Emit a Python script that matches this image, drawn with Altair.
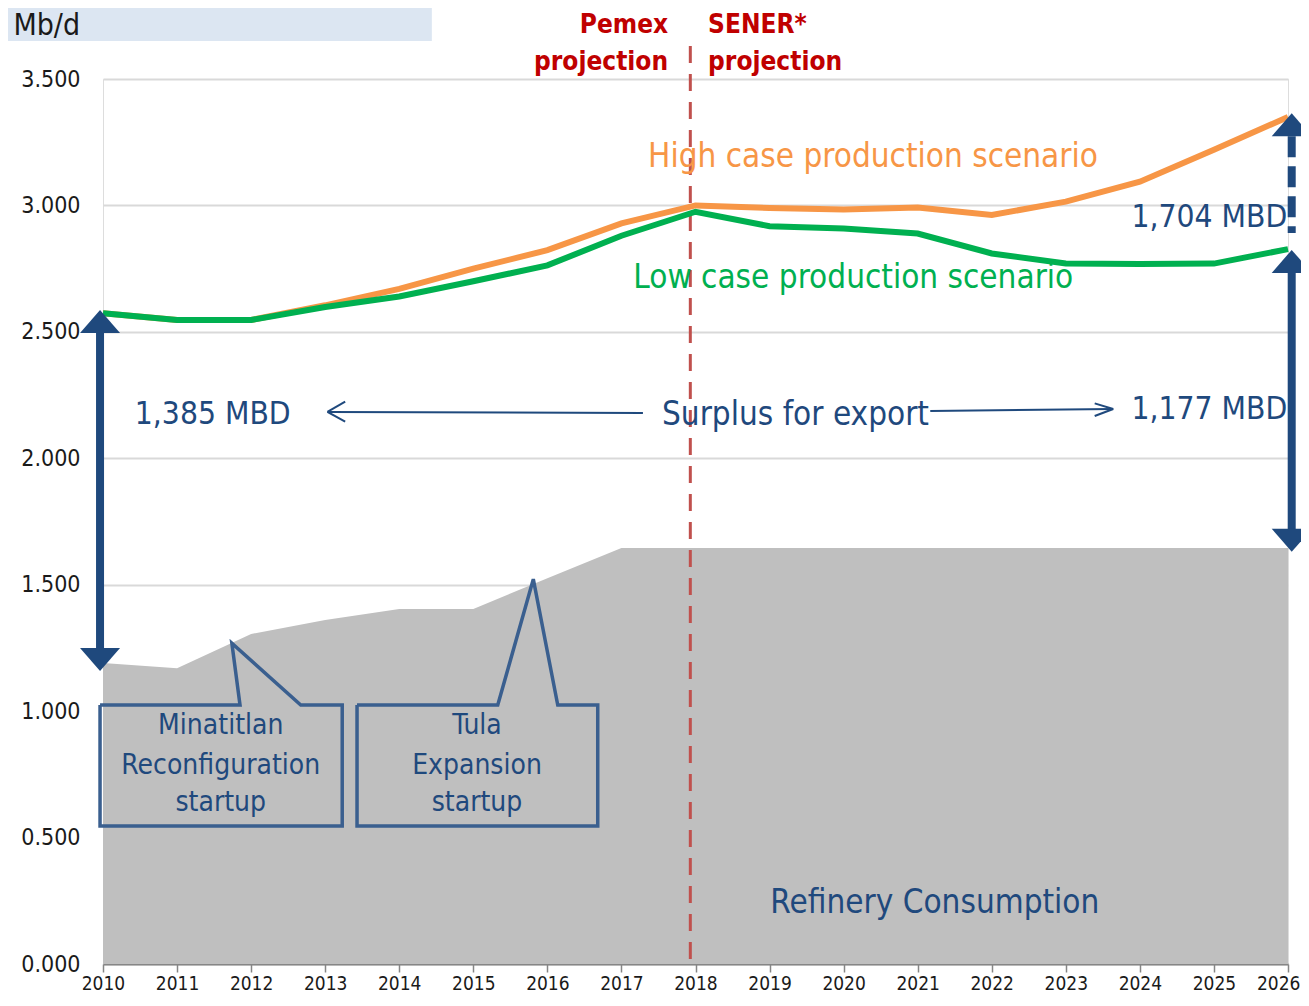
import altair as alt
import pandas as pd

FONT = "'Liberation Sans Narrow', 'Arial Narrow', 'DejaVu Sans Condensed', sans-serif"
BLUE = "#1F497D"
BOX_BLUE = "#3A5F8F"

# ---------------- data ----------------
years = list(range(2010, 2027))
refinery = [1.190, 1.170, 1.305, 1.360, 1.404, 1.404, 1.526, 1.645, 1.645, 1.645,
            1.645, 1.645, 1.645, 1.645, 1.645, 1.645, 1.645]
high_case = [2.574, 2.547, 2.547, 2.605, 2.670, 2.750, 2.823, 2.929, 3.000, 2.990,
             2.984, 2.992, 2.962, 3.015, 3.094, 3.220, 3.350]
low_case = [2.574, 2.547, 2.547, 2.598, 2.640, 2.700, 2.763, 2.880, 2.975, 2.918,
            2.909, 2.889, 2.810, 2.770, 2.768, 2.770, 2.827]

y_ticks = [0, 0.5, 1.0, 1.5, 2.0, 2.5, 3.0, 3.5]

# annotation positions (in data units: year, Mb/d)
divider_year = 2017.93
divider_range = [0.02, 3.67]

header_box = dict(x=2008.61, x2=2014.44, y=3.812, y2=3.650)
header_text = dict(x=2008.79, y=3.674, text="Mb/d")

# thick double arrows
left_arrow_x = 2009.96
left_shaft = [2.507, 1.238]
left_heads = [2.507, 1.238]
right_arrow_x = 2026.05
right_shaft = [2.745, 1.709]
right_heads = [2.745, 1.709]
dashed_shaft = [3.274, 2.891]
dashed_head = 3.285

# thin arrows (segments x, y, x2, y2)
thin_segments = [
    (2013.04, 2.183, 2017.29, 2.179),
    (2013.03, 2.184, 2013.27, 2.224),
    (2013.03, 2.184, 2013.27, 2.145),
    (2021.17, 2.187, 2023.64, 2.195),
    (2023.64, 2.195, 2023.39, 2.217),
    (2023.64, 2.195, 2023.39, 2.167),
]

# callout outlines
minatitlan_x = [2009.96, 2011.85, 2011.74, 2012.67, 2013.23, 2013.23, 2009.96, 2009.96]
minatitlan_y = [1.024, 1.024, 1.269, 1.024, 1.024, 0.546, 0.546, 1.024]
tula_x = [2013.43, 2015.33, 2015.81, 2016.14, 2016.68, 2016.68, 2013.43, 2013.43]
tula_y = [1.024, 1.024, 1.522, 1.024, 1.024, 0.546, 0.546, 1.024]

callout_lines_y = [0.941, 0.783, 0.637]
minatitlan_text = ["Minatitlan", "Reconfiguration", "startup"]
minatitlan_cx = 2011.59
tula_text = ["Tula", "Expansion", "startup"]
tula_cx = 2015.05

# ---------------- scales ----------------
xs = alt.Scale(domain=[2010, 2026], nice=False, zero=False)
ys = alt.Scale(domain=[0, 3.5], nice=False)

series = pd.DataFrame({"year": years, "refinery": refinery,
                       "high": high_case, "low": low_case})

area = alt.Chart(series).mark_area(color="#BFBFBF", opacity=1).encode(
    x=alt.X("year:Q", scale=xs, title=None,
            axis=alt.Axis(values=years, format="d", grid=False,
                          domainColor="#868686", domainWidth=2,
                          tickColor="#868686", tickWidth=1.5, tickSize=8,
                          labelFontSize=19, labelFont=FONT, labelColor="#1a1a1a",
                          labelPadding=2, labelFlush=False, labelOverlap=False,
                          labelAlign={"condition": {"test": "datum.value == 2026",
                                                    "value": "right"},
                                      "value": "center"},
                          labelOffset={"condition": {"test": "datum.value == 2026",
                                                     "value": 12},
                                       "value": 0})),
    y=alt.Y("refinery:Q", scale=ys, title=None,
            axis=alt.Axis(values=y_ticks, labelExpr="format(datum.value, '.3f')",
                          grid=True, gridColor="#D9D9D9", gridWidth=2,
                          domain=False, ticks=False, labelFontSize=23,
                          labelFont=FONT, labelColor="#1a1a1a", labelPadding=23)),
)

high_line = alt.Chart(series).mark_line(color="#F79646", strokeWidth=6).encode(
    x=alt.X("year:Q", scale=xs), y=alt.Y("high:Q", scale=ys))
low_line = alt.Chart(series).mark_line(color="#00B050", strokeWidth=6).encode(
    x=alt.X("year:Q", scale=xs), y=alt.Y("low:Q", scale=ys))

divider = alt.Chart(pd.DataFrame({"x": [divider_year], "y": [divider_range[0]],
                                  "y2": [divider_range[1]]})).mark_rule(
    color="#C0504D", strokeWidth=3, strokeDash=[17, 11]).encode(
    x=alt.X("x:Q", scale=xs), y=alt.Y("y:Q", scale=ys), y2="y2:Q")

hb = alt.Chart(pd.DataFrame([header_box])).mark_rect(color="#DCE6F2").encode(
    x=alt.X("x:Q", scale=xs), x2="x2:Q", y=alt.Y("y:Q", scale=ys), y2="y2:Q")
ht = alt.Chart(pd.DataFrame([header_text])).mark_text(
    align="left", baseline="alphabetic", fontSize=30, font=FONT, color="#1a1a1a").encode(
    x=alt.X("x:Q", scale=xs), y=alt.Y("y:Q", scale=ys), text="text:N")

# thick arrows
shafts = pd.DataFrame({
    "x": [left_arrow_x, right_arrow_x],
    "y": [left_shaft[0], right_shaft[0]],
    "y2": [left_shaft[1], right_shaft[1]],
})
shaft_layer = alt.Chart(shafts).mark_rule(color=BLUE, strokeWidth=8).encode(
    x=alt.X("x:Q", scale=xs), y=alt.Y("y:Q", scale=ys), y2="y2:Q")
dashed_layer = alt.Chart(pd.DataFrame({"x": [right_arrow_x], "y": [dashed_shaft[0]],
                                       "y2": [dashed_shaft[1]]})).mark_rule(
    color=BLUE, strokeWidth=8, strokeDash=[21, 9]).encode(
    x=alt.X("x:Q", scale=xs), y=alt.Y("y:Q", scale=ys), y2="y2:Q")

UP = "M0,-1L1,0.15L-1,0.15Z"
DOWN = "M0,1L1,-0.15L-1,-0.15Z"
up_heads = pd.DataFrame({"x": [left_arrow_x, right_arrow_x, right_arrow_x],
                         "y": [left_heads[0], right_heads[0], dashed_head]})
down_heads = pd.DataFrame({"x": [left_arrow_x, right_arrow_x],
                           "y": [left_heads[1], right_heads[1]]})
up_layer = alt.Chart(up_heads).mark_point(shape=UP, size=1600, filled=True,
                                          color=BLUE, opacity=1, strokeWidth=0).encode(
    x=alt.X("x:Q", scale=xs), y=alt.Y("y:Q", scale=ys))
down_layer = alt.Chart(down_heads).mark_point(shape=DOWN, size=1600, filled=True,
                                              color=BLUE, opacity=1, strokeWidth=0).encode(
    x=alt.X("x:Q", scale=xs), y=alt.Y("y:Q", scale=ys))

thin = pd.DataFrame(thin_segments, columns=["x", "y", "x2", "y2"])
thin_layer = alt.Chart(thin).mark_rule(color=BLUE, strokeWidth=2).encode(
    x=alt.X("x:Q", scale=xs), y=alt.Y("y:Q", scale=ys), x2="x2:Q", y2="y2:Q")

# callouts
callouts = pd.DataFrame({
    "x": minatitlan_x + tula_x,
    "y": minatitlan_y + tula_y,
    "g": ["m"] * len(minatitlan_x) + ["t"] * len(tula_x),
    "o": list(range(len(minatitlan_x))) + list(range(len(tula_x))),
})
callout_layer = alt.Chart(callouts).mark_line(color=BOX_BLUE, strokeWidth=3.5,
                                              strokeJoin="miter").encode(
    x=alt.X("x:Q", scale=xs), y=alt.Y("y:Q", scale=ys), detail="g:N", order="o:Q")

callout_text = pd.DataFrame({
    "x": [minatitlan_cx] * 3 + [tula_cx] * 3,
    "y": callout_lines_y * 2,
    "text": minatitlan_text + tula_text,
})
callout_text_layer = alt.Chart(callout_text).mark_text(
    align="center", baseline="middle", fontSize=28, font=FONT, color=BLUE).encode(
    x=alt.X("x:Q", scale=xs), y=alt.Y("y:Q", scale=ys), text="text:N")


def label(df, align, color, size, weight="normal"):
    return alt.Chart(pd.DataFrame(df)).mark_text(
        align=align, baseline="middle", fontSize=size, font=FONT, color=color,
        fontWeight=weight).encode(
        x=alt.X("x:Q", scale=xs), y=alt.Y("y:Q", scale=ys), text="text:N")


left_mbd = label({"x": [2010.43], "y": [2.171], "text": ["1,385 MBD"]}, "left", BLUE, 31.5)
refinery_label = label({"x": [2019.01], "y": [0.241],
                        "text": ["Refinery Consumption"]}, "left", BLUE, 33)
blue_center = label({"x": [2019.35], "y": [2.171], "text": ["Surplus for export"]},
                    "center", BLUE, 33)
blue_right = label({"x": [2025.99, 2025.99], "y": [2.191, 2.950],
                    "text": ["1,177 MBD", "1,704 MBD"]}, "right", BLUE, 31.5)
high_label = label({"x": [2017.36], "y": [3.191],
                    "text": ["High case production scenario"]}, "left", "#F79646", 33)
low_label = label({"x": [2017.16], "y": [2.713],
                   "text": ["Low case production scenario"]}, "left", "#00B050", 33)
pemex = label({"x": [2017.63, 2017.63], "y": [3.713, 3.567],
               "text": ["Pemex", "projection"]}, "right", "#C00000", 26, "bold")
sener = label({"x": [2018.17, 2018.17], "y": [3.713, 3.567],
               "text": ["SENER*", "projection"]}, "left", "#C00000", 26, "bold")

chart = alt.layer(
    area, hb, ht, divider, high_line, low_line,
    callout_layer, callout_text_layer,
    shaft_layer, dashed_layer, up_layer, down_layer, thin_layer,
    left_mbd, refinery_label, blue_center, blue_right, high_label, low_label, pemex, sener,
).properties(
    width=1185, height=885,
    autosize=alt.AutoSizeParams(type="none"),
    padding={"left": 95, "top": 71, "right": 13, "bottom": 30},
).configure_view(stroke=None).configure(background="white")

chart.save("out.html", embed_options={"renderer": "svg", "actions": False})
